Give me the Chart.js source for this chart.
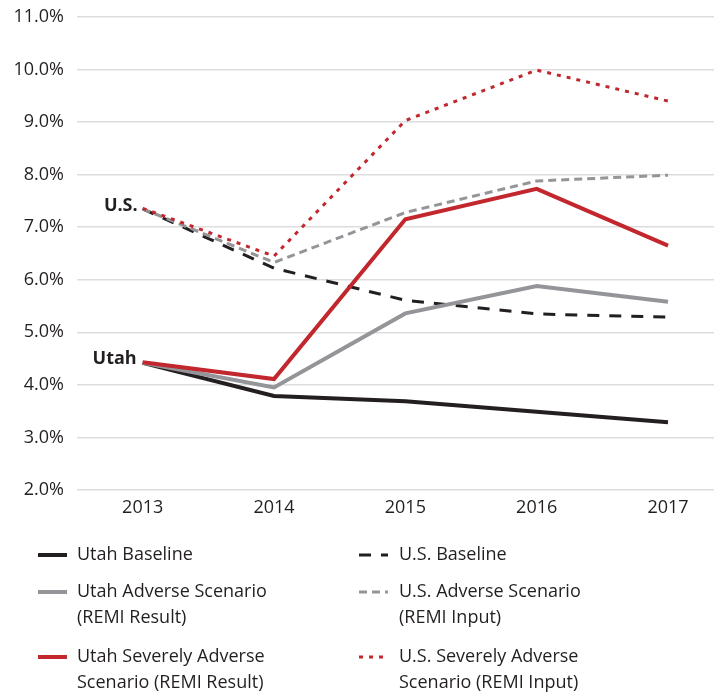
<!DOCTYPE html>
<html>
<head>
<meta charset="utf-8">
<script src="https://cdn.jsdelivr.net/npm/chart.js@4"></script>
<style>
  html, body { margin: 0; padding: 0; background: #fff; }
  #wrap { width: 714px; height: 698px; }
</style>
</head>
<body>
<div id="wrap"><canvas id="rateChart"></canvas></div>
<script>
var years = [2013, 2014, 2015, 2016, 2017];
var utahBaseline = [4.42, 3.79, 3.69, 3.49, 3.29];
var utahAdverse = [4.42, 3.95, 5.36, 5.88, 5.58];
var utahSevere = [4.43, 4.11, 7.15, 7.73, 6.65];
var usBaseline = [7.35, 6.22, 5.61, 5.35, 5.29];
var usAdverse = [7.35, 6.33, 7.28, 7.88, 7.99];
var usSevere = [7.36, 6.45, 9.03, 9.99, 9.40];
var yTicks = [2, 3, 4, 5, 6, 7, 8, 9, 10, 11];

var BLACK = '#231f20', GRAY = '#939598', RED = '#c1272d';
var FONT = '"Open Sans", "Noto Sans", sans-serif';
var FSIZE = 18;

function pts(vals) {
    return vals.map(function (v, i) { return { x: years[i], y: v }; });
}

// legend drawn under the plot, two columns
var legendPlugin = {
    id: 'sideLegend',
    afterDraw: function (chart) {
        var ctx = chart.ctx;
        var rows = [555, 592, 657];
        var cols = [{ lx: 38, tx: 77 }, { lx: 359, tx: 399 }];
        ctx.save();
        ctx.font = FSIZE + 'px ' + FONT;
        ctx.fillStyle = BLACK;
        ctx.textBaseline = 'middle';
        chart.data.datasets.forEach(function (ds, i) {
            var col = cols[Math.floor(i / 3)];
            var y = rows[i % 3];
            ctx.beginPath();
            ctx.strokeStyle = ds.borderColor;
            ctx.lineWidth = ds.borderWidth;
            ctx.setLineDash(ds.borderDash || []);
            ctx.moveTo(col.lx, y);
            ctx.lineTo(col.lx + 29, y);
            ctx.stroke();
            ctx.setLineDash([]);
            var lines = [].concat(ds.label);
            lines.forEach(function (t, j) {
                ctx.fillText(t, col.tx, y + j * 26);
            });
        });
        ctx.restore();
    }
};

// "U.S." and "Utah" tags at the start of the lines
var tagPlugin = {
    id: 'tags',
    afterDatasetsDraw: function (chart) {
        var ctx = chart.ctx;
        var xs = chart.scales.x, ys = chart.scales.y;
        ctx.save();
        ctx.font = 'bold ' + FSIZE + 'px ' + FONT;
        ctx.fillStyle = BLACK;
        ctx.textAlign = 'right';
        ctx.textBaseline = 'middle';
        ctx.fillText('U.S.', xs.getPixelForValue(years[0]) - 5, ys.getPixelForValue(usBaseline[0]) - 3);
        ctx.fillText('Utah', xs.getPixelForValue(years[0]) - 6, ys.getPixelForValue(utahBaseline[0]) - 4);
        ctx.restore();
    }
};

var ctx = document.getElementById('rateChart').getContext('2d');
var rateChart = new Chart(ctx, {
    type: 'line',
    data: {
        datasets: [
            { label: 'Utah Baseline', data: pts(utahBaseline), borderColor: BLACK, borderWidth: 4, order: 3 },
            { label: ['Utah Adverse Scenario', '(REMI Result)'], data: pts(utahAdverse), borderColor: GRAY, borderWidth: 4, order: 2 },
            { label: ['Utah Severely Adverse', 'Scenario (REMI Result)'], data: pts(utahSevere), borderColor: RED, borderWidth: 4, order: 1 },
            { label: 'U.S. Baseline', data: pts(usBaseline), borderColor: BLACK, borderWidth: 3, borderDash: [12, 10], order: 6 },
            { label: ['U.S. Adverse Scenario', '(REMI Input)'], data: pts(usAdverse), borderColor: GRAY, borderWidth: 3, borderDash: [8, 5], order: 5 },
            { label: ['U.S. Severely Adverse', 'Scenario (REMI Input)'], data: pts(usSevere), borderColor: RED, borderWidth: 3, borderDash: [4, 6], order: 4 }
        ]
    },
    options: {
        responsive: true,
        maintainAspectRatio: false,
        animation: false,
        elements: {
            point: { radius: 0 },
            line: { tension: 0, fill: false, borderJoinStyle: 'miter' }
        },
        layout: { padding: { top: 17, right: 0, bottom: 178, left: 0 } },
        scales: {
            x: {
                type: 'linear',
                min: 2012.5,
                max: 2017.35,
                afterBuildTicks: function (axis) {
                    axis.ticks = years.map(function (v) { return { value: v }; });
                },
                afterFit: function (axis) { axis.height = 30; },
                grid: { display: false, drawTicks: false },
                border: { display: false },
                ticks: {
                    color: BLACK,
                    font: { family: FONT, size: FSIZE },
                    padding: 7,
                    maxRotation: 0,
                    callback: function (v) { return String(v); }
                }
            },
            y: {
                min: 2,
                max: 11,
                afterBuildTicks: function (axis) {
                    axis.ticks = yTicks.map(function (v) { return { value: v }; });
                },
                afterFit: function (axis) {
                    axis.width = 77;
                    axis.paddingTop = 0;
                    axis.paddingBottom = 0;
                },
                grid: { color: '#dddddd', lineWidth: 1.5, drawTicks: false },
                border: { display: false },
                ticks: {
                    color: BLACK,
                    font: { family: FONT, size: FSIZE },
                    padding: 13,
                    callback: function (v) { return v.toFixed(1) + '%'; }
                }
            }
        },
        plugins: {
            legend: { display: false },
            tooltip: { enabled: false }
        }
    },
    plugins: [tagPlugin, legendPlugin]
});
</script>
</body>
</html>
